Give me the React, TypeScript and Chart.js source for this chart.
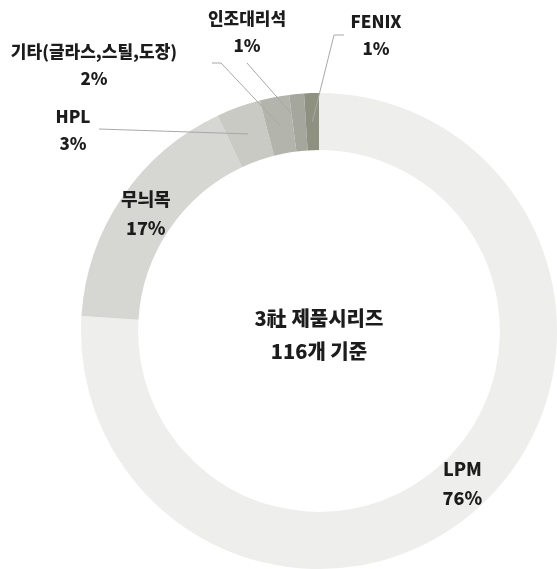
import React, { useEffect, useRef } from "react";
import { Chart, registerables } from "chart.js";

Chart.register(...registerables);

const categories = ["LPM", "무늬목", "HPL", "기타(글라스,스틸,도장)", "인조대리석", "FENIX"];
const shares = [76, 17, 3, 2, 1, 1];
const centerLines = ["3社 제품시리즈", "116개 기준"];

const sliceColors = ["#eeeeec", "#d6d7d2", "#c9cac3", "#b3b4ab", "#a6a79c", "#8e9080"];

// label placement for each slice (offsets from the chart centre), null = inside the ring
const outsideLayout: ({ path: [number, number][]; x: number; y: number } | null)[] = [
  null,
  null,
  { path: [[-220, -202]], x: -246, y: -201 },
  { path: [[-98, -268], [-107, -268]], x: -225, y: -266 },
  { path: [[-72, -268]], x: -72, y: -299 },
  { path: [[15, -296], [25, -296]], x: 57, y: -296 },
];

const FONT = '"Noto Sans CJK KR", "Noto Sans", sans-serif';

const labelPlugin = {
  id: "sliceLabels",
  afterDraw(chart: any) {
    const ctx = chart.ctx as CanvasRenderingContext2D;
    const meta = chart.getDatasetMeta(0);
    ctx.save();
    ctx.textAlign = "center";
    ctx.textBaseline = "middle";
    ctx.fillStyle = "#1c1c1c";
    let cx = 0;
    let cy = 0;
    meta.data.forEach((arc: any, i: number) => {
      cx = arc.x;
      cy = arc.y;
      const c = arc.getCenterPoint();
      const lay = outsideLayout[i];
      const lines = [categories[i], `${shares[i]}%`];
      if (!lay) {
        ctx.font = `900 18px ${FONT}`;
        ctx.fillText(lines[0], c.x, c.y - 14.5);
        ctx.fillText(lines[1], c.x, c.y + 14.5);
      } else {
        ctx.strokeStyle = "#a8a8a8";
        ctx.lineWidth = 1;
        ctx.beginPath();
        ctx.moveTo(c.x, c.y);
        lay.path.forEach(([dx, dy]) => ctx.lineTo(cx + dx, cy + dy));
        ctx.stroke();
        ctx.font = `900 17px ${FONT}`;
        ctx.fillText(lines[0], cx + lay.x, cy + lay.y - 13.5);
        ctx.fillText(lines[1], cx + lay.x, cy + lay.y + 13.5);
      }
    });
    ctx.font = `900 20px ${FONT}`;
    ctx.fillText(centerLines[0], cx, cy - 13);
    ctx.fillText(centerLines[1], cx, cy + 20);
    ctx.restore();
  },
};

export default function App() {
  const ref = useRef<HTMLCanvasElement>(null);
  useEffect(() => {
    document.body.style.margin = "0";
    const chart = new Chart(ref.current as HTMLCanvasElement, {
      type: "doughnut",
      data: {
        labels: categories,
        datasets: [
          {
            data: shares,
            backgroundColor: sliceColors,
            borderWidth: 0,
            hoverOffset: 0,
            offset: 0,
          },
        ],
      },
      options: {
        responsive: false,
        animation: false,
        cutout: "76%",
        layout: { padding: { left: 81, top: 93, right: 0, bottom: 0 } },
        plugins: { legend: { display: false }, tooltip: { enabled: false } },
        events: [],
      },
      plugins: [labelPlugin],
    });
    return () => chart.destroy();
  }, []);
  return (
    <div style={{ width: 557, height: 569, background: "#ffffff" }}>
      <canvas ref={ref} width={557} height={569} />
    </div>
  );
}
